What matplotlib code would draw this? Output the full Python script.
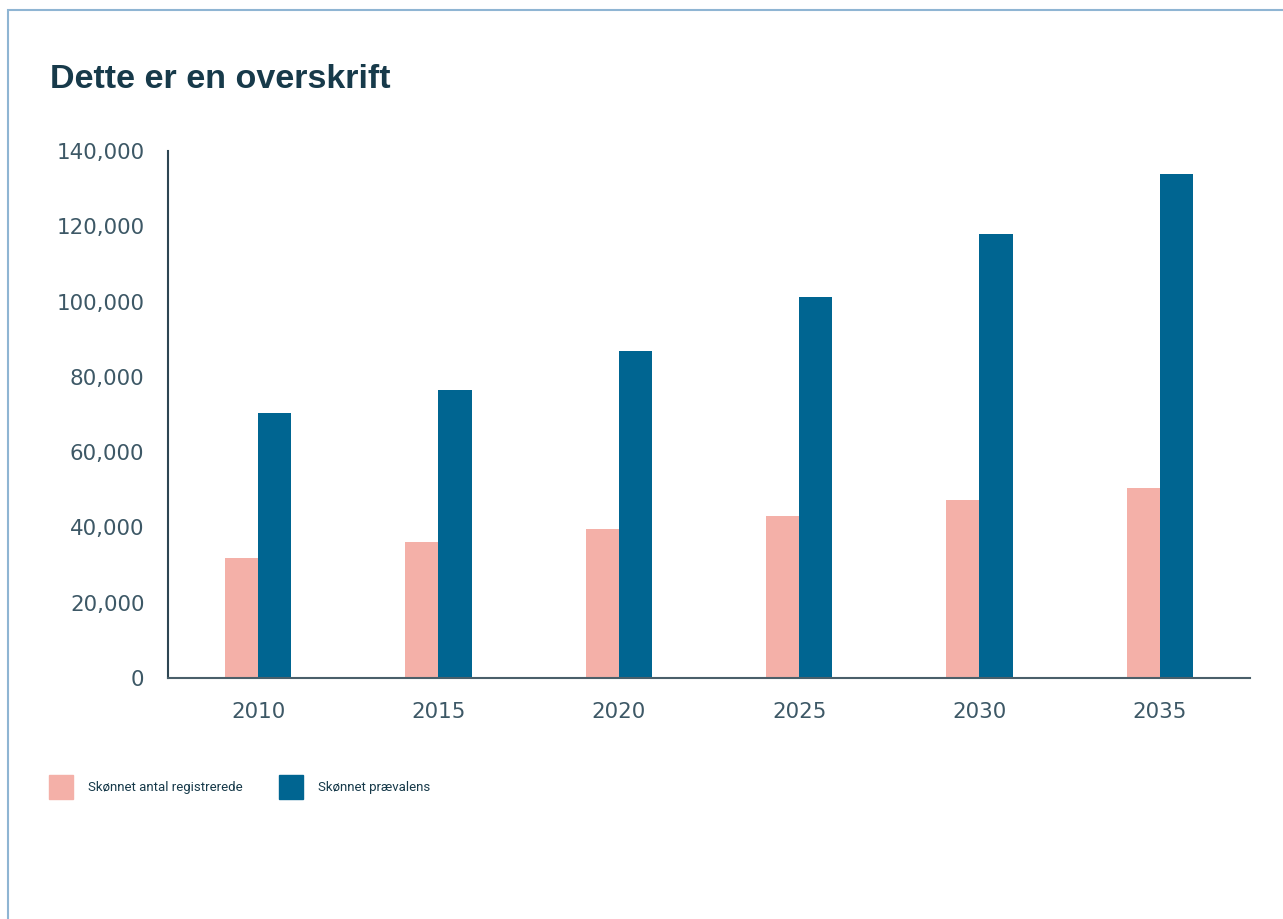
import matplotlib.pyplot as plt
import numpy as np
from matplotlib.patches import Rectangle

years = ["2010", "2015", "2020", "2025", "2030", "2035"]
registrerede = [32000, 36000, 39500, 43000, 47200, 50600]
praevalens = [70300, 76600, 87000, 101300, 117900, 134000]
labels = ["Skønnet antal registrerede", "Skønnet prævalens"]

pink = "#f4b0a8"
blue = "#006591"
dark = "#173a4a"
tick_col = "#3d5866"

fig = plt.figure(figsize=(12.83, 9.19), dpi=100)

# light blue frame (only left and top visible)
fig.patches.append(Rectangle((8 / 1283, -0.1), 1.2, 1 - 10 / 919 + 0.1,
                             transform=fig.transFigure, fill=False,
                             edgecolor="#8fb5d3", linewidth=1.5))

fig.text(50 / 1283, 1 - 80 / 919, "Dette er en overskrift", fontsize=24.5,
         fontweight="bold", family="Liberation Sans", color=dark, va="center")

ax = fig.add_axes([168 / 1283, 1 - 678 / 919, (1250 - 168) / 1283, (678 - 151) / 919])
x = np.arange(len(years))
w = 0.183
ax.bar(x - w / 2, registrerede, w, color=pink, label=labels[0])
ax.bar(x + w / 2, praevalens, w, color=blue, label=labels[1])

ax.set_xlim(-0.5, len(years) - 0.5)
ax.set_ylim(0, 140000)
ax.set_yticks(np.arange(0, 140001, 20000))
ax.yaxis.set_major_formatter(plt.FuncFormatter(lambda v, p: f"{int(v):,}"))
ax.set_xticks(x)
ax.set_xticklabels(years)
ax.tick_params(axis="both", length=0, labelsize=15.4, labelcolor=tick_col)
ax.tick_params(axis="y", pad=17)
ax.tick_params(axis="x", pad=17)
for s in ["top", "right"]:
    ax.spines[s].set_visible(False)
ax.spines["left"].set_color("#2e4653")
ax.spines["bottom"].set_color("#4a5f6a")
ax.spines["left"].set_linewidth(1.5)
ax.spines["bottom"].set_linewidth(1.5)

# legend drawn as squares + text
for i, (lab, col) in enumerate(zip(labels, [pink, blue])):
    x0 = [49, 279][i]
    fig.patches.append(Rectangle((x0 / 1283, 1 - 799 / 919), 24 / 1283, 24 / 919,
                                 transform=fig.transFigure, color=col))
    fig.text((x0 + 39) / 1283, 1 - 787 / 919, lab, fontsize=9.5, family="Roboto",
             color=dark, va="center")

fig.savefig("out.png", dpi=100)
